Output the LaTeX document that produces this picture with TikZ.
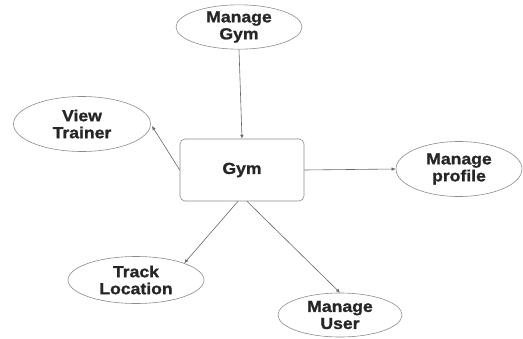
\documentclass[tikz,border=0pt]{standalone}
\usepackage{fontspec}
\setmainfont{Liberation Sans}[FakeStretch=1.1, BoldFeatures={FakeBold=1.2}]
\usetikzlibrary{shapes.geometric,arrows.meta}
\begin{document}
\begin{tikzpicture}[x=1pt,y=-1pt,
  every node/.style={font=\fontsize{16}{17}\selectfont\bfseries, align=center, text=black!85},
  uc/.style={ellipse, draw=black!45, line width=0.6pt, inner sep=0pt},
  conn/.style={draw=black!60, line width=0.6pt, -{Latex[length=4pt,width=3.5pt]}}]
\useasboundingbox (0,0) rectangle (523,338);
\node[uc, minimum width=126pt, minimum height=41pt] (mg) at (239,27) {Manage\\Gym};
\node[uc, minimum width=137pt, minimum height=55pt] (vt) at (82,124) {View\\Trainer};
\node[draw=black!45, line width=0.6pt, rounded corners=5pt, minimum width=124pt, minimum height=62pt] (gym) at (242,170) {Gym};
\node[uc, minimum width=126pt, minimum height=55pt] (mp) at (459,169) {Manage\\profile};
\node[uc, minimum width=136pt, minimum height=47pt] (tl) at (136,280) {Track\\Location};
\node[uc, minimum width=124pt, minimum height=44pt] (mu) at (340,315) {Manage\\User};
\draw[conn] (mg.south) -- (gym.north);
\draw[conn] (gym.west) -- (152,126) coordinate (vtend);
\draw[conn] (gym.east) -- (mp.west);
\draw[conn] ([xshift=-4pt]gym.south) -- (tl.north east);
\draw[conn] ([xshift=5pt]gym.south) -- (mu.north);
\end{tikzpicture}
\end{document}
